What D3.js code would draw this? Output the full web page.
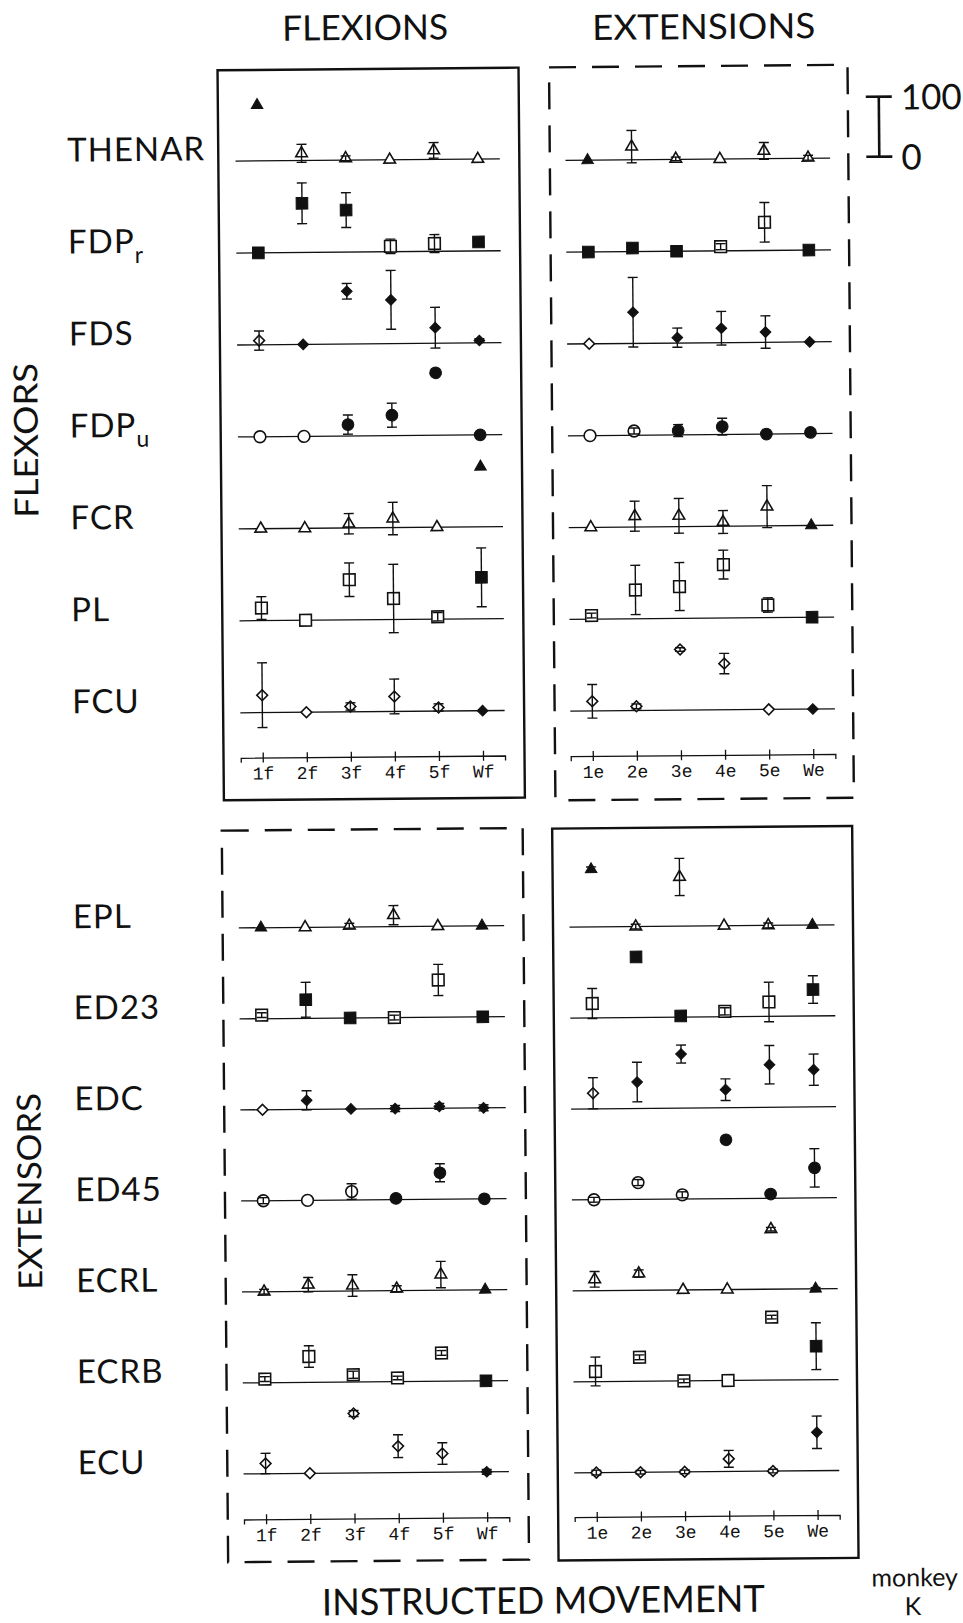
<!DOCTYPE html>
<html lang="en">
<head>
<meta charset="UTF-8">
<title>Instructed movement, monkey K</title>
<style>
  body { margin: 0; background: #fff; }
  svg { display: block; }
  .label { font-family: Lato, "Open Sans", sans-serif; fill: #111; }
  .tick text { font-family: "Liberation Mono", "DejaVu Sans Mono", monospace; font-size: 18px; fill: #111; }
</style>
<script src="https://d3js.org/d3.v7.min.js"></script>
</head>
<body>
<div id="chart"></div>
<script>
// rows (muscles) and columns (instructed movements)
var flexorMuscles = ["THENAR", "FDP_r", "FDS", "FDP_u", "FCR", "PL", "FCU"];
var extensorMuscles = ["EPL", "ED23", "EDC", "ED45", "ECRL", "ECRB", "ECU"];
var flexionMoves = ["1f", "2f", "3f", "4f", "5f", "Wf"];
var extensionMoves = ["1e", "2e", "3e", "4e", "5e", "We"];
var rowShapes = ["triangle", "square", "diamond", "circle", "triangle", "square", "diamond"];

// flexor muscles, flexion movements
var flexorsFlexVal = [
  [93, 12, 3, 0, 15, 0],
  [0, 82, 70, 9, 13, 15],
  [7, 0, 88, 73, 26, 4],
  [0, 0, 19, 34, 104, 0],
  [0, 0, 7, 15, 0, 100],
  [21, 0, 67, 35, 4, 69],
  [29, 0, 9, 25, 6, 0]
];
var flexorsFlexErr = [
  [0, 15, 4, 0, 13, 0],
  [0, 34, 29, 12, 15, 5],
  [16, 0, 13, 49, 34, 3],
  [0, 0, 16, 20, 0, 0],
  [0, 0, 17, 27, 0, 0],
  [19, 0, 28, 57, 7, 49],
  [54, 0, 6, 29, 6, 0]
];
var flexorsFlexFill = [
  [1, 0, 0, 0, 0, 0],
  [1, 1, 1, 0, 0, 1],
  [0, 1, 1, 1, 1, 1],
  [0, 0, 1, 1, 1, 1],
  [0, 0, 0, 0, 0, 1],
  [0, 0, 0, 0, 0, 1],
  [0, 0, 0, 0, 0, 1]
];

// flexor muscles, extension movements
var flexorsExtVal = [
  [0, 22, 1, 0, 13, 1],
  [0, 6, 0, 7, 47, 0],
  [0, 52, 9, 24, 17, 0],
  [0, 7, 7, 13, 0, 2],
  [0, 18, 18, 7, 32, 0],
  [6, 48, 53, 89, 21, 0],
  [16, 7, 101, 77, 0, 0]
];
var flexorsExtErr = [
  [0, 27, 3, 0, 14, 4],
  [0, 6, 0, 5, 33, 0],
  [0, 58, 16, 28, 27, 0],
  [0, 5, 10, 14, 0, 0],
  [0, 25, 29, 19, 35, 0],
  [4, 41, 40, 24, 12, 0],
  [28, 4, 3, 17, 0, 0]
];
var flexorsExtFill = [
  [1, 0, 0, 0, 0, 0],
  [1, 1, 1, 0, 0, 1],
  [0, 1, 1, 1, 1, 1],
  [0, 0, 1, 1, 1, 1],
  [0, 0, 0, 0, 0, 1],
  [0, 0, 0, 0, 0, 1],
  [0, 0, 0, 0, 0, 1]
];

// extensor muscles, flexion movements
var extensorsFlexVal = [
  [0, 0, 2, 19, 0, 0],
  [6, 31, 0, 0, 62, 0],
  [0, 15, 0, 0, 3, 0],
  [0, 0, 14, 2, 44, 0],
  [0, 11, 9, 3, 26, 0],
  [6, 43, 12, 6, 47, 0],
  [17, 0, 99, 44, 31, 0]
];
var extensorsFlexErr = [
  [0, 0, 4, 16, 0, 0],
  [4, 29, 0, 4, 26, 0],
  [0, 16, 0, 5, 5, 5],
  [5, 0, 13, 0, 15, 0],
  [4, 12, 18, 5, 22, 0],
  [4, 18, 6, 3, 4, 0],
  [17, 0, 5, 19, 18, 4]
];
var extensorsFlexFill = [
  [1, 0, 0, 0, 0, 1],
  [0, 1, 1, 0, 0, 1],
  [0, 1, 1, 1, 1, 1],
  [0, 0, 0, 1, 1, 1],
  [0, 0, 0, 0, 0, 1],
  [0, 0, 0, 0, 0, 1],
  [0, 0, 0, 0, 0, 1]
];

// extensor muscles, extension movements
var extensorsExtVal = [
  [96, 0, 82, 0, 0, 0],
  [24, 101, 2, 9, 24, 44],
  [26, 44, 90, 30, 71, 62],
  [0, 28, 7, 98, 7, 50],
  [19, 28, 0, 0, 100, 0],
  [17, 40, 0, 0, 105, 56],
  [0, 0, 0, 21, 0, 64]
];
var extensorsExtErr = [
  [4, 4, 31, 0, 4, 0],
  [25, 0, 0, 6, 33, 23],
  [26, 33, 15, 18, 32, 26],
  [4, 5, 5, 0, 0, 32],
  [13, 6, 0, 0, 3, 2],
  [24, 4, 3, 0, 3, 39],
  [4, 3, 3, 14, 3, 27]
];
var extensorsExtFill = [
  [1, 0, 0, 0, 0, 1],
  [0, 1, 1, 0, 0, 1],
  [0, 1, 1, 1, 1, 1],
  [0, 0, 0, 1, 1, 1],
  [0, 0, 0, 0, 0, 1],
  [0, 0, 0, 0, 0, 1],
  [0, 0, 0, 0, 0, 1]
];

var scaleTicks = [0, 100];

var width = 963, height = 1623;
var ink = "#111";

var svg = d3.select("#chart").append("svg")
  .attr("width", width)
  .attr("height", height);

// the scanned page sits about half a degree off square
var page = svg.append("g").attr("transform", "rotate(-0.5, 481, 811)");

// one value unit = 0.6px, measured from the baseline of each row
var yValue = d3.scaleLinear().domain([0, 100]).range([0, -60]);

var panels = [
  { muscles: flexorMuscles, moves: flexionMoves, values: flexorsFlexVal, errors: flexorsFlexErr, filled: flexorsFlexFill,
    box: [224, 68, 525, 798], dashed: false, ticks: [263.2, 483.5], axisY: 755.7, rows: [159, 710.7], labelX: 73 },
  { muscles: flexorMuscles, moves: extensionMoves, values: flexorsExtVal, errors: flexorsExtErr, filled: flexorsExtFill,
    box: [555.5, 68, 854, 801], dashed: true, ticks: [593.2, 813.8], axisY: 757, rows: [161.2, 711.9] },
  { muscles: extensorMuscles, moves: flexionMoves, values: extensorsFlexVal, errors: extensorsFlexErr, filled: extensorsFlexFill,
    box: [221.6, 828.4, 522.5, 1560], dashed: true, ticks: [259.8, 481.1], axisY: 1517.4, rows: [925.8, 1471.8], labelX: 72 },
  { muscles: extensorMuscles, moves: extensionMoves, values: extensorsExtVal, errors: extensorsExtErr, filled: extensorsExtFill,
    box: [552, 829.2, 852, 1561.2], dashed: false, ticks: [590.5, 811.5], axisY: 1517.9, rows: [927.9, 1473.6] }
];

var symbolTypes = { triangle: d3.symbolTriangle, square: d3.symbolSquare, diamond: d3.symbolSquare, circle: d3.symbolCircle };
var symbolSizes = { triangle: 58, square: 135, diamond: 58, circle: 108 };

panels.forEach(function(p) {
  var g = page.append("g");

  var x = d3.scalePoint()
    .domain(p.moves)
    .range([p.ticks[0] - 22, p.ticks[1] + 22])
    .padding(0.5);
  var row = d3.scalePoint().domain(p.muscles).range(p.rows);

  // frame
  g.append("rect")
    .attr("x", p.box[0])
    .attr("y", p.box[1])
    .attr("width", p.box[2] - p.box[0])
    .attr("height", p.box[3] - p.box[1])
    .attr("fill", "none")
    .attr("stroke", ink)
    .attr("stroke-width", 2.4)
    .attr("stroke-dasharray", p.dashed ? "27,16" : null);

  // zero line of each muscle
  g.selectAll("line.base")
    .data(p.muscles)
    .enter().append("line")
    .attr("class", "base")
    .attr("x1", x.range()[0])
    .attr("x2", x.range()[1])
    .attr("y1", d => row(d))
    .attr("y2", d => row(d))
    .attr("stroke", ink)
    .attr("stroke-width", 1.3);

  // movement axis
  var axis = g.append("g")
    .attr("transform", "translate(0," + p.axisY + ")")
    .call(d3.axisBottom(x).tickSizeOuter(0).tickSize(5));
  axis.select(".domain").attr("stroke", ink).attr("stroke-width", 1.3);
  axis.selectAll(".tick line").attr("y1", -5).attr("y2", 5).attr("stroke", ink).attr("stroke-width", 1.3);
  axis.selectAll(".tick text").attr("y", 9);

  var points = [];
  p.muscles.forEach(function(m, i) {
    p.moves.forEach(function(mv, j) {
      points.push({ muscle: m, move: mv, shape: rowShapes[i],
        value: p.values[i][j], err: p.errors[i][j], filled: p.filled[i][j] === 1 });
    });
  });

  // markers
  g.selectAll("path.mark")
    .data(points)
    .enter().append("path")
    .attr("class", "mark")
    .attr("d", d => d3.symbol(symbolTypes[d.shape], symbolSizes[d.shape])())
    .attr("transform", d => "translate(" + x(d.move) + "," + (row(d.muscle) + yValue(d.value)) + ")" +
      (d.shape === "diamond" ? " rotate(45)" : ""))
    .attr("fill", d => d.filled ? ink : "#fff")
    .attr("stroke", ink)
    .attr("stroke-width", d => d.filled ? 1 : 1.6);

  // error bars, drawn over the markers
  var bars = g.selectAll("g.err")
    .data(points.filter(d => d.err > 0))
    .enter().append("g")
    .attr("class", "err")
    .attr("stroke", ink)
    .attr("stroke-width", 1.4);
  bars.append("line")
    .attr("x1", d => x(d.move))
    .attr("x2", d => x(d.move))
    .attr("y1", d => row(d.muscle) + yValue(d.value - d.err))
    .attr("y2", d => row(d.muscle) + yValue(d.value + d.err));
  [-1, 1].forEach(function(sign) {
    bars.append("line")
      .attr("x1", d => x(d.move) - 5)
      .attr("x2", d => x(d.move) + 5)
      .attr("y1", d => row(d.muscle) + yValue(d.value + sign * d.err))
      .attr("y2", d => row(d.muscle) + yValue(d.value + sign * d.err));
  });

  // muscle names, left of the flexion panels
  if (p.labelX) {
    g.selectAll("text.muscle")
      .data(p.muscles)
      .enter().append("text")
      .attr("class", "label muscle")
      .attr("x", p.labelX)
      .attr("y", d => row(d) - 1)
      .style("font-size", "33px")
      .style("letter-spacing", "1px")
      .each(function(d) {
        var parts = d.split("_");
        var t = d3.select(this);
        t.append("tspan").text(parts[0]);
        if (parts[1]) t.append("tspan").attr("dy", 10).style("font-size", "23px").text(parts[1]);
      });
  }
});

// column titles
page.append("text").attr("class", "label")
  .attr("x", 289).attr("y", 39)
  .attr("textLength", 166).attr("lengthAdjust", "spacingAndGlyphs")
  .style("font-size", "35px")
  .text("FLEXIONS");
page.append("text").attr("class", "label")
  .attr("x", 599).attr("y", 41)
  .attr("textLength", 223).attr("lengthAdjust", "spacingAndGlyphs")
  .style("font-size", "35px")
  .text("EXTENSIONS");

// group titles, reading upwards
page.append("text").attr("class", "label")
  .attr("transform", "translate(41,359) rotate(-90)")
  .attr("text-anchor", "end")
  .attr("textLength", 155).attr("lengthAdjust", "spacingAndGlyphs")
  .style("font-size", "33px")
  .text("FLEXORS");
page.append("text").attr("class", "label")
  .attr("transform", "translate(38,1089) rotate(-90)")
  .attr("text-anchor", "end")
  .attr("textLength", 197).attr("lengthAdjust", "spacingAndGlyphs")
  .style("font-size", "33px")
  .text("EXTENSORS");

// bottom caption
page.append("text").attr("class", "label")
  .attr("x", 315).attr("y", 1614)
  .attr("textLength", 443).attr("lengthAdjust", "spacingAndGlyphs")
  .style("font-size", "37px")
  .text("INSTRUCTED MOVEMENT");
page.append("text").attr("class", "label")
  .attr("x", 908).attr("y", 1590)
  .attr("text-anchor", "middle")
  .style("font-size", "25px")
  .text("monkey");
page.append("text").attr("class", "label")
  .attr("x", 906).attr("y", 1619)
  .attr("text-anchor", "middle")
  .style("font-size", "25px")
  .text("K");

// calibration bar, 0 to 100
var scaleBase = 160.2;
var sb = page.append("g").attr("stroke", ink).attr("stroke-width", 2.6);
sb.append("line")
  .attr("x1", 885).attr("x2", 885)
  .attr("y1", scaleBase + yValue(scaleTicks[0]))
  .attr("y2", scaleBase + yValue(scaleTicks[1]));
sb.selectAll("line.cap")
  .data(scaleTicks)
  .enter().append("line")
  .attr("class", "cap")
  .attr("x1", 872).attr("x2", 898)
  .attr("y1", d => scaleBase + yValue(d))
  .attr("y2", d => scaleBase + yValue(d));
page.selectAll("text.scale")
  .data(scaleTicks)
  .enter().append("text")
  .attr("class", "label scale")
  .attr("x", 907)
  .attr("y", d => scaleBase + yValue(d) + 13)
  .style("font-size", "35px")
  .text(d => d);
</script>
</body>
</html>
